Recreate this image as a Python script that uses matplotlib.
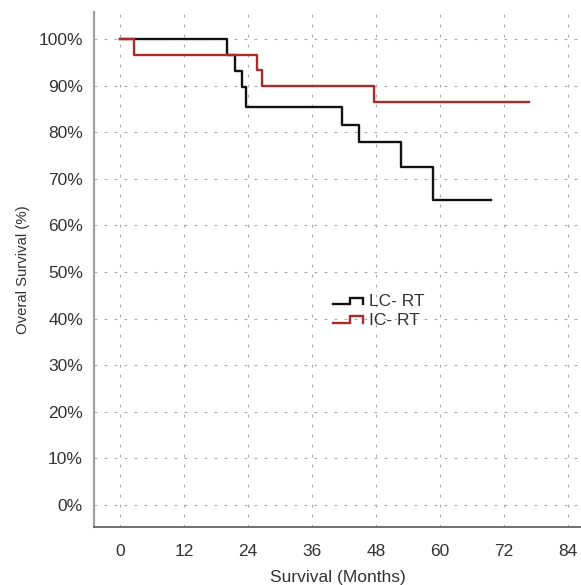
import numpy as np
import matplotlib
matplotlib.use("Agg")
import matplotlib.pyplot as plt
from matplotlib.lines import Line2D
from matplotlib.legend_handler import HandlerBase

plt.rcParams['font.family'] = ['Liberation Sans', 'DejaVu Sans']

# Kaplan-Meier step data (months, survival %)
lc_time = [0, 20, 21.6, 22.8, 23.6, 41.7, 44.8, 52.7, 58.75, 69.5]
lc_surv = [100, 96.6, 93.1, 89.7, 85.5, 81.5, 77.8, 72.6, 65.4, 65.4]
ic_time = [0, 2.7, 25.6, 26.6, 47.7, 76.6]
ic_surv = [100, 96.6, 93.3, 90.0, 86.4, 86.4]

x_ticks = [0, 12, 24, 36, 48, 60, 72, 84]
y_ticks = [0, 10, 20, 30, 40, 50, 60, 70, 80, 90, 100]


# legend icon shaped like a little step
class StepHandler(HandlerBase):
    def create_artists(self, legend, orig, xdescent, ydescent, width, height, fontsize, trans):
        xs = np.array([0, 0.57, 0.57, 1.0, 1.0]) * width - xdescent
        ys = np.array([0.15, 0.15, 0.7, 0.7, 0.15]) * height - ydescent
        line = Line2D(xs, ys, color=orig.get_color(), lw=orig.get_linewidth(),
                      solid_joinstyle='miter')
        line.set_transform(trans)
        return [line]


W, H = 581, 585
fig = plt.figure(figsize=(W / 100, H / 100), dpi=100)
ax = fig.add_axes([94 / W, (H - 527) / H, (W - 94) / W, (527 - 12) / H])

ax.step(lc_time, lc_surv, where='post', color='#111111', lw=1.7, label='LC- RT')
ax.step(ic_time, ic_surv, where='post', color='#ad2a2a', lw=1.7, label='IC- RT')

ax.set_xlim(-4.875, 86.44)
ax.set_ylim(-4.72, 105.8)
ax.set_xticks(x_ticks)
ax.set_yticks(y_ticks)
ax.set_yticklabels([f"{v}%" for v in y_ticks])
ax.tick_params(length=0, labelsize=12.5, colors='#333333')
ax.tick_params(axis='y', pad=8)
ax.tick_params(axis='x', pad=12)

ax.grid(True, color='#a8a8a8', lw=0.8, linestyle=(0, (2.5, 6.5)))

for s in ['top', 'right']:
    ax.spines[s].set_visible(False)
ax.spines['left'].set_color('#a0a0a0')
ax.spines['left'].set_linewidth(1.6)
ax.spines['bottom'].set_color('#666666')
ax.spines['bottom'].set_linewidth(1.3)

ax.set_xlabel('Survival (Months)', fontsize=12.5, color='#333333', labelpad=8)
ax.set_ylabel('Overal Survival (%)', fontsize=10.7, color='#333333', labelpad=6)

h, l = ax.get_legend_handles_labels()
ax.legend(h, l, handler_map={Line2D: StepHandler()}, frameon=False,
          loc='upper left', bbox_to_anchor=(333 / W, (H - 294) / H),
          bbox_transform=fig.transFigure, borderpad=0, borderaxespad=0,
          fontsize=12.5, handlelength=1.7, handletextpad=0.35, labelspacing=0.2,
          labelcolor='#333333')

fig.savefig('out.png', dpi=100)
